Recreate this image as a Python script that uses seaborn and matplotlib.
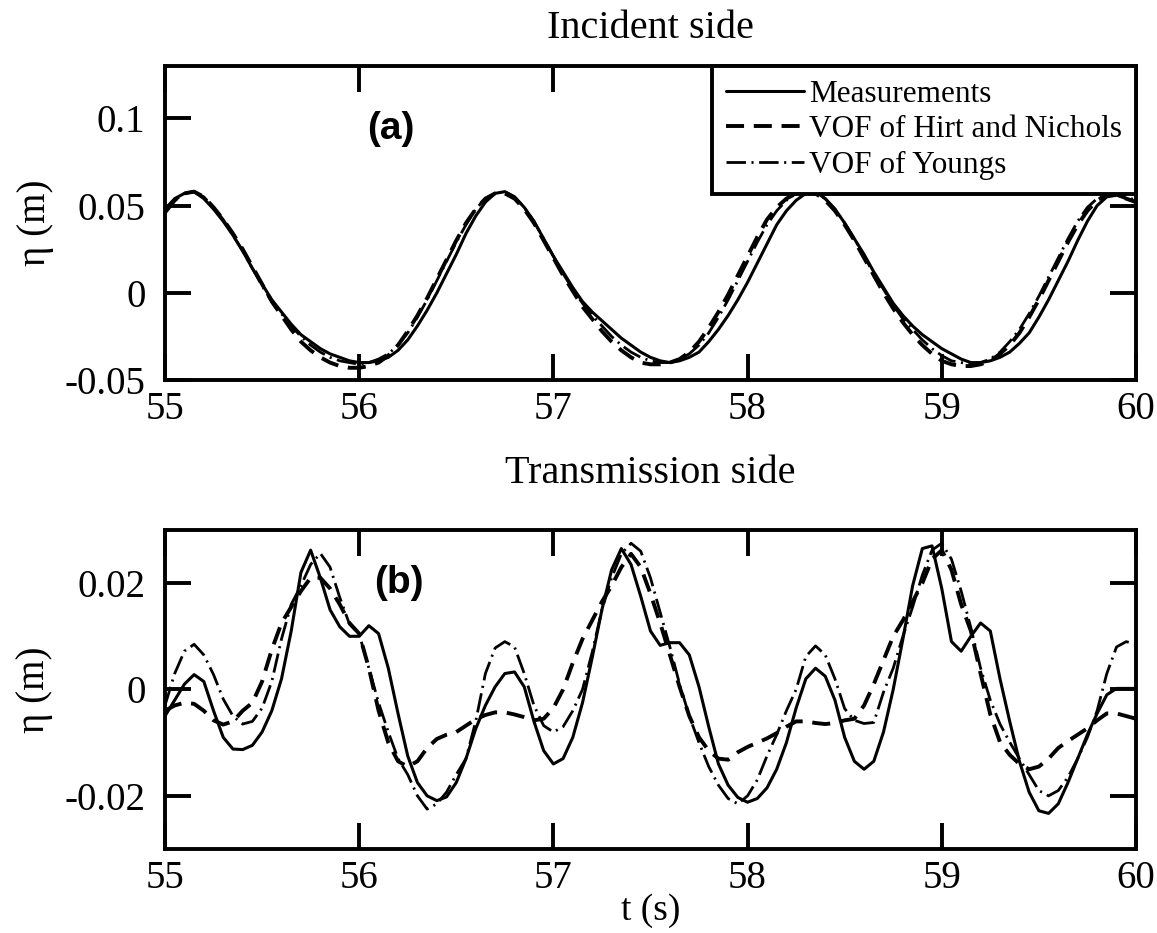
import numpy as np
import pandas as pd
import matplotlib
matplotlib.use("Agg")
import matplotlib.pyplot as plt
import seaborn as sns

# ---------------- data ----------------
t = np.round(np.arange(55.0, 60.0001, 0.05), 2)

# Panel (a): incident side
inc_meas = [0.048, 0.054, 0.057, 0.058, 0.054, 0.048, 0.041, 0.033, 0.024, 0.014,
            0.005, -0.004, -0.011, -0.018, -0.024, -0.028, -0.032, -0.035, -0.037, -0.039,
            -0.040, -0.040, -0.039, -0.037, -0.033, -0.027, -0.019, -0.010, 0.000, 0.011,
            0.022, 0.034, 0.044, 0.052, 0.057, 0.058, 0.055, 0.049, 0.041, 0.031,
            0.021, 0.012, 0.003, -0.005, -0.011, -0.016, -0.021, -0.026, -0.030, -0.034,
            -0.037, -0.039, -0.040, -0.039, -0.037, -0.034, -0.028, -0.021, -0.013, -0.004,
            0.006, 0.017, 0.028, 0.039, 0.047, 0.053, 0.057, 0.058, 0.054, 0.048,
            0.040, 0.031, 0.022, 0.012, 0.003, -0.006, -0.013, -0.019, -0.024, -0.028,
            -0.032, -0.035, -0.038, -0.040, -0.040, -0.039, -0.037, -0.034, -0.029, -0.023,
            -0.014, -0.004, 0.007, 0.018, 0.030, 0.041, 0.050, 0.055, 0.056, 0.054,
            0.052]
inc_hn = [0.046, 0.053, 0.057, 0.058, 0.055, 0.049, 0.042, 0.034, 0.025, 0.015,
          0.005, -0.005, -0.013, -0.021, -0.028, -0.033, -0.037, -0.040, -0.042, -0.043,
          -0.043, -0.042, -0.040, -0.036, -0.030, -0.022, -0.013, -0.003, 0.008, 0.019,
          0.030, 0.040, 0.048, 0.054, 0.057, 0.057, 0.054, 0.048, 0.040, 0.030,
          0.020, 0.010, 0.001, -0.008, -0.015, -0.022, -0.028, -0.033, -0.037, -0.040,
          -0.041, -0.041, -0.040, -0.038, -0.034, -0.028, -0.020, -0.011, -0.001, 0.010,
          0.021, 0.032, 0.042, 0.049, 0.054, 0.057, 0.058, 0.057, 0.053, 0.047,
          0.039, 0.030, 0.020, 0.010, 0.000, -0.009, -0.017, -0.024, -0.030, -0.035,
          -0.039, -0.041, -0.042, -0.042, -0.041, -0.039, -0.035, -0.030, -0.023, -0.014,
          -0.004, 0.007, 0.018, 0.029, 0.039, 0.047, 0.053, 0.056, 0.056, 0.054,
          0.052]
inc_young = [0.047, 0.053, 0.057, 0.058, 0.055, 0.049, 0.042, 0.033, 0.024, 0.014,
             0.004, -0.005, -0.012, -0.019, -0.025, -0.030, -0.034, -0.037, -0.039, -0.040,
             -0.041, -0.040, -0.038, -0.035, -0.030, -0.023, -0.014, -0.004, 0.007, 0.018,
             0.029, 0.039, 0.048, 0.054, 0.057, 0.058, 0.055, 0.049, 0.041, 0.031,
             0.021, 0.011, 0.002, -0.006, -0.013, -0.019, -0.025, -0.030, -0.034, -0.037,
             -0.039, -0.040, -0.040, -0.038, -0.035, -0.030, -0.023, -0.014, -0.004, 0.007,
             0.018, 0.029, 0.039, 0.047, 0.053, 0.057, 0.058, 0.057, 0.054, 0.048,
             0.040, 0.031, 0.021, 0.011, 0.002, -0.007, -0.015, -0.021, -0.027, -0.032,
             -0.036, -0.039, -0.040, -0.041, -0.040, -0.038, -0.034, -0.028, -0.021, -0.012,
             -0.002, 0.009, 0.020, 0.031, 0.041, 0.049, 0.054, 0.057, 0.057, 0.055,
             0.053]

# Panel (b): transmission side
tr_meas = [-0.0050, -0.0020, 0.0010, 0.0028, 0.0015, -0.0040, -0.0090, -0.0112, -0.0113, -0.0105,
           -0.0080, -0.0040, 0.0020, 0.0110, 0.0220, 0.0262, 0.0210, 0.0150, 0.0118, 0.0100,
           0.0100, 0.0120, 0.0105, 0.0040, -0.0045, -0.0125, -0.0175, -0.0200, -0.0209, -0.0202,
           -0.0175, -0.0130, -0.0074, -0.0030, 0.0005, 0.0030, 0.0033, 0.0005, -0.0060, -0.0115,
           -0.0140, -0.0130, -0.0090, -0.0025, 0.0060, 0.0150, 0.0225, 0.0265, 0.0235, 0.0175,
           0.0110, 0.0083, 0.0088, 0.0088, 0.0065, 0.0005, -0.0070, -0.0140, -0.0180, -0.0203,
           -0.0212, -0.0205, -0.0185, -0.0150, -0.0100, -0.0035, 0.0020, 0.0040, 0.0025, -0.0020,
           -0.0090, -0.0135, -0.0150, -0.0135, -0.0080, 0.0000, 0.0095, 0.0195, 0.0265, 0.0270,
           0.0190, 0.0090, 0.0072, 0.0100, 0.0125, 0.0110, 0.0020, -0.0060, -0.0135, -0.0193,
           -0.0228, -0.0233, -0.0215, -0.0175, -0.0130, -0.0085, -0.0045, -0.0010, 0.0002, 0.0002,
           0.0002]
tr_hn = [-0.0040, -0.0030, -0.0025, -0.0027, -0.0040, -0.0058, -0.0066, -0.0060, -0.0040, -0.0025,
         0.0015, 0.0075, 0.0125, 0.0155, 0.0185, 0.0210, 0.0210, 0.0190, 0.0160, 0.0125,
         0.0105, 0.0040, -0.0040, -0.0100, -0.0135, -0.0145, -0.0135, -0.0110, -0.0093, -0.0085,
         -0.0080, -0.0068, -0.0056, -0.0048, -0.0043, -0.0043, -0.0047, -0.0052, -0.0058, -0.0055,
         -0.0035, 0.0000, 0.0050, 0.0095, 0.0130, 0.0165, 0.0195, 0.0230, 0.0255, 0.0230,
         0.0180, 0.0125, 0.0065, 0.0005, -0.0050, -0.0090, -0.0115, -0.0130, -0.0132, -0.0118,
         -0.0108, -0.0100, -0.0092, -0.0082, -0.0070, -0.0060, -0.0060, -0.0063, -0.0065, -0.0063,
         -0.0058, -0.0055, -0.0030, 0.0010, 0.0055, 0.0100, 0.0130, 0.0165, 0.0200, 0.0245,
         0.0262, 0.0225, 0.0160, 0.0110, 0.0030, -0.0047, -0.0099, -0.0123, -0.0140, -0.0150,
         -0.0145, -0.0130, -0.0110, -0.0097, -0.0085, -0.0073, -0.0058, -0.0045, -0.0045, -0.0050,
         -0.0055]
tr_young = [-0.0030, 0.0030, 0.0072, 0.0085, 0.0065, 0.0028, -0.0018, -0.0050, -0.0065, -0.0060,
            -0.0035, 0.0015, 0.0095, 0.0160, 0.0195, 0.0235, 0.0256, 0.0230, 0.0173, 0.0123,
            0.0104, 0.0040, -0.0025, -0.0080, -0.0130, -0.0160, -0.0200, -0.0225, -0.0215, -0.0193,
            -0.0160, -0.0130, -0.0060, 0.0030, 0.0078, 0.0090, 0.0080, 0.0030, -0.0030, -0.0068,
            -0.0080, -0.0070, -0.0040, 0.0000, 0.0070, 0.0150, 0.0210, 0.0255, 0.0275, 0.0260,
            0.0210, 0.0145, 0.0080, 0.0010, -0.0050, -0.0100, -0.0145, -0.0180, -0.0205, -0.0215,
            -0.0200, -0.0170, -0.0125, -0.0085, -0.0040, 0.0000, 0.0062, 0.0082, 0.0065, 0.0020,
            -0.0036, -0.0058, -0.0064, -0.0062, -0.0005, 0.0040, 0.0100, 0.0155, 0.0215, 0.0262,
            0.0275, 0.0245, 0.0185, 0.0116, 0.0040, -0.0020, -0.0065, -0.0099, -0.0130, -0.0160,
            -0.0190, -0.0200, -0.0190, -0.0165, -0.0130, -0.0090, -0.0040, 0.0030, 0.0080, 0.0090,
            0.0085]

series_names = ["Measurements", "VOF of Hirt and Nichols", "VOF of Youngs"]
x_ticks = [55, 56, 57, 58, 59, 60]
a_yticks = [-0.05, 0, 0.05, 0.1]
a_ylabels = ["-0.05", "0", "0.05", "0.1"]
b_yticks = [-0.02, 0, 0.02]
b_ylabels = ["-0.02", "0", "0.02"]

# ---------------- style ----------------
sns.set_theme(style="ticks")
plt.rcParams["font.family"] = ["Liberation Serif", "DejaVu Serif"]
plt.rcParams["lines.scale_dashes"] = False
plt.rcParams["axes.linewidth"] = 2.8
plt.rcParams["text.color"] = "black"
plt.rcParams["axes.labelcolor"] = "black"
plt.rcParams["xtick.color"] = "black"
plt.rcParams["ytick.color"] = "black"

line_styles = {
    "Measurements": dict(linestyle="-", lw=2.2),
    "VOF of Hirt and Nichols": dict(linestyle=(0, (13, 7)), lw=2.8),
    "VOF of Youngs": dict(linestyle=(0, (14, 4, 1.5, 4)), lw=2.0),
}

fig = plt.figure(figsize=(11.57, 9.33), dpi=100)
ax_a = fig.add_axes([0.1426, 0.5927, 0.8392, 0.3365])
ax_b = fig.add_axes([0.1426, 0.0900, 0.8392, 0.3420])

def draw(ax, series):
    df = pd.DataFrame({"t": np.tile(t, 3),
                       "eta": np.concatenate([np.asarray(s) for s in series]),
                       "series": np.repeat(series_names, len(t))})
    for name in series_names:
        sub = df[df["series"] == name]
        sns.lineplot(data=sub, x="t", y="eta", ax=ax, color="black",
                     estimator=None, sort=False, label=name, **line_styles[name])
    return ax

draw(ax_a, [inc_meas, inc_hn, inc_young])
draw(ax_b, [tr_meas, tr_hn, tr_young])

for ax in (ax_a, ax_b):
    ax.set_xlim(55, 60)
    ax.set_xticks(x_ticks)
    ax.set_xticklabels([str(v) for v in x_ticks])
    ax.tick_params(axis="both", which="major", direction="in", length=19, width=2.8,
                   labelsize=28, top=True, right=True)
    ax.tick_params(axis="x", pad=8)
    ax.tick_params(axis="y", pad=14)
    ax.set_ylabel("η (m)", fontsize=28, labelpad=8)
    for sp in ax.spines.values():
        sp.set_visible(True)
        sp.set_linewidth(2.8)
        sp.set_color("black")

ax_a.set_ylim(-0.05, 0.13)
ax_a.set_yticks(a_yticks)
ax_a.set_yticklabels(a_ylabels)
ax_a.set_xlabel("")
ax_a.set_title("Incident side", fontsize=29, pad=20)

ax_b.set_ylim(-0.03, 0.03)
ax_b.set_yticks(b_yticks)
ax_b.set_yticklabels(b_ylabels)
ax_b.set_xlabel("t (s)", fontsize=27, labelpad=-3)
ax_b.set_title("Transmission side", fontsize=29, pad=34)

ax_a.text(0.233, 0.80, "(a)", transform=ax_a.transAxes, ha="center", va="center",
          fontsize=28, fontweight="bold", family="Liberation Sans")
ax_b.text(0.241, 0.835, "(b)", transform=ax_b.transAxes, ha="center", va="center",
          fontsize=28, fontweight="bold", family="Liberation Sans")

leg = ax_a.legend(loc="upper right", bbox_to_anchor=(1.0, 1.0), borderaxespad=0.0,
                  fontsize=22.5, handlelength=2.5, handletextpad=0.15, labelspacing=0.2,
                  borderpad=0.45, frameon=True, fancybox=False, framealpha=1.0)
leg.get_frame().set_edgecolor("black")
leg.get_frame().set_linewidth(2.8)
if ax_b.get_legend() is not None:
    ax_b.get_legend().remove()

fig.savefig("out.png", dpi=100)
